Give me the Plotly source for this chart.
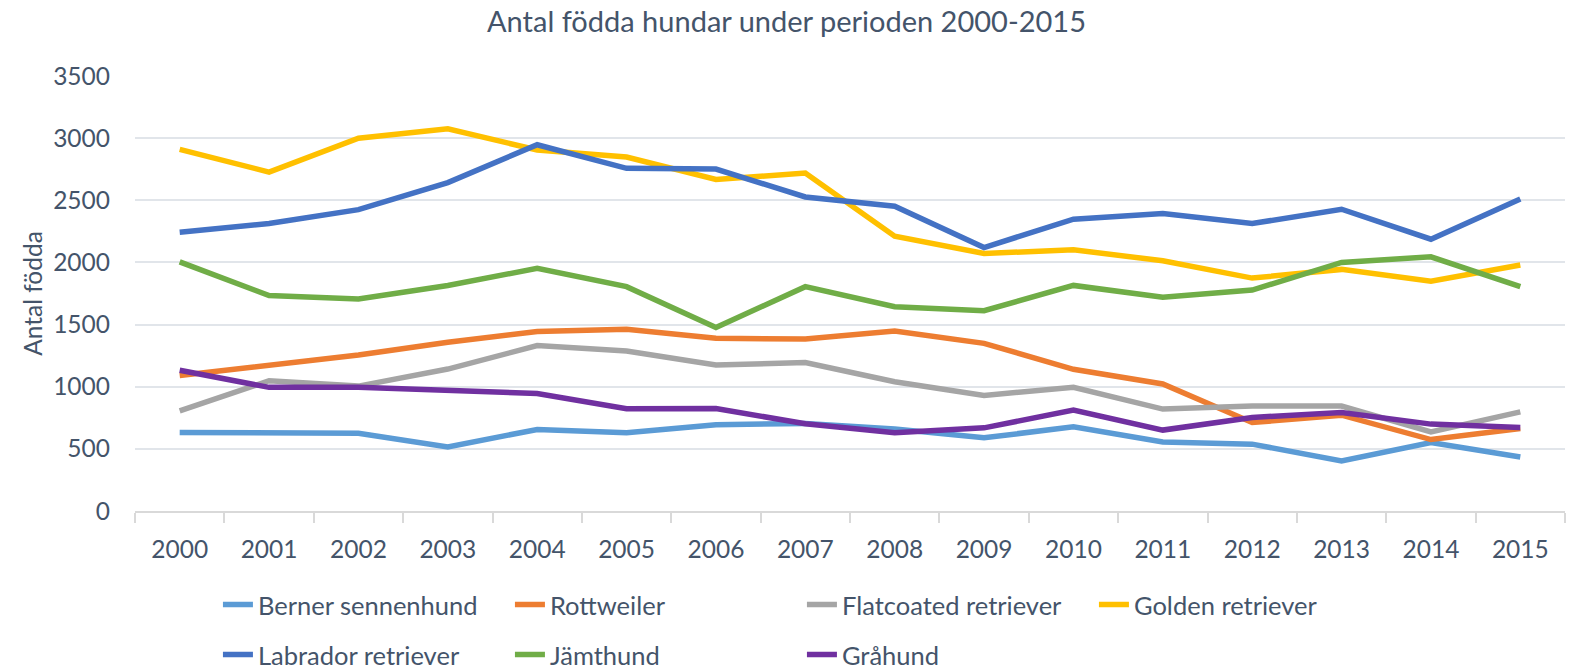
import plotly.graph_objects as go

years = [str(y) for y in range(2000, 2016)]

berner = [632, 626, 626, 516, 656, 629, 694, 705, 660, 589, 677, 556, 538, 403, 551, 435]
rottweiler = [1091, 1175, 1255, 1358, 1444, 1462, 1390, 1384, 1449, 1349, 1140, 1022, 712, 771, 575, 664]
flatcoated = [806, 1048, 1005, 1142, 1331, 1288, 1175, 1194, 1040, 930, 995, 820, 844, 844, 637, 798]
golden = [2910, 2727, 3000, 3075, 2905, 2848, 2668, 2719, 2211, 2072, 2102, 2013, 1874, 1944, 1848, 1979]
labrador = [2243, 2313, 2425, 2642, 2947, 2757, 2751, 2527, 2452, 2120, 2348, 2393, 2313, 2428, 2187, 2511]
jamthund = [2005, 1733, 1706, 1815, 1952, 1805, 1476, 1805, 1644, 1612, 1815, 1719, 1778, 2000, 2045, 1805]
grahund = [1132, 995, 995, 973, 946, 823, 825, 702, 629, 669, 812, 651, 753, 793, 699, 672]

names = ["Berner sennenhund", "Rottweiler", "Flatcoated retriever", "Golden retriever",
         "Labrador retriever", "Jämthund", "Gråhund"]
series = [berner, rottweiler, flatcoated, golden, labrador, jamthund, grahund]
colors = ["#5B9BD5", "#ED7D31", "#A5A5A5", "#FFC000", "#4472C4", "#70AD47", "#7030A0"]
legends = ["legend", "legend", "legend", "legend", "legend2", "legend2", "legend2"]

text_color = "#44546A"
font_main = "Lato, Open Sans, sans-serif"

fig = go.Figure()
for n, s, c, lg in zip(names, series, colors, legends):
    fig.add_trace(go.Scatter(x=years, y=s, name=n, mode="lines",
                             line=dict(color=c, width=5.5), legend=lg))

leg_common = dict(orientation="h", x=0.058, xanchor="left", yanchor="middle", yref="container",
                  entrywidth=247, entrywidthmode="pixels",
                  font=dict(size=25.5, color=text_color, family=font_main),
                  bgcolor="rgba(0,0,0,0)")

fig.update_layout(
    width=1573, height=669,
    paper_bgcolor="white", plot_bgcolor="white",
    margin=dict(l=135, r=8, t=76, b=158, autoexpand=False),
    title=dict(text="Antal födda hundar under perioden 2000-2015", x=0.5, xanchor="center",
               y=0.967, yanchor="middle", font=dict(size=29, color=text_color, family=font_main)),
    font=dict(family=font_main, color=text_color, size=24),
    legend=dict(y=1 - 605 / 669, **leg_common),
    legend2=dict(y=1 - 655 / 669, **leg_common),
    showlegend=True,
)

fig.update_xaxes(type="category", range=[-0.5, 15.5], showgrid=False, automargin=False,
                 showline=True, linecolor="#D9D9D9", linewidth=1.5,
                 ticks="outside", tickson="boundaries", ticklen=10, tickcolor="#D9D9D9",
                 tickwidth=1.5, tickfont=dict(size=24.5, color=text_color), ticklabelstandoff=16)
fig.update_yaxes(range=[0, 3500], dtick=500, showgrid=True, gridcolor="#E1E5EA", gridwidth=1.5,
                 zeroline=False, showline=False, ticks="", automargin=False,
                 tickfont=dict(size=24.5, color=text_color), ticklabelstandoff=24,
                 title=dict(text="Antal födda", font=dict(size=24.5, color=text_color), standoff=3))

fig.write_html("out.html", config={"displayModeBar": False},
               post_script="document.body.style.margin='0';document.body.style.overflow='hidden';")
